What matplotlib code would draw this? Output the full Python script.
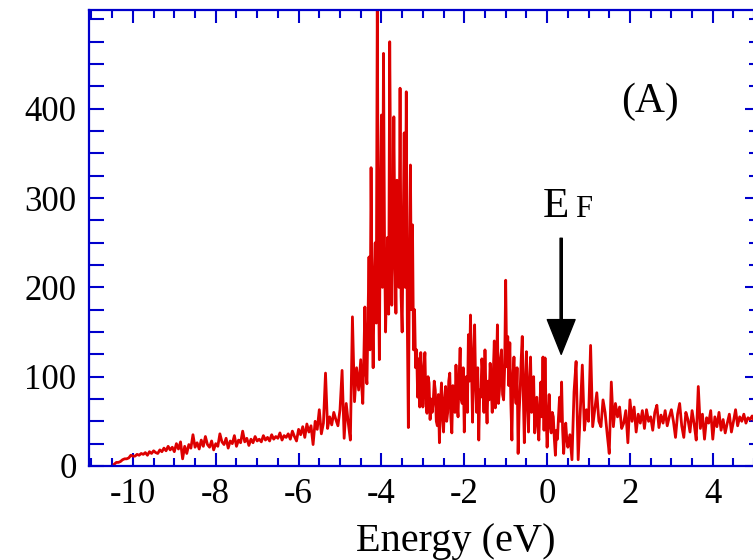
import numpy as np
import matplotlib
matplotlib.use("Agg")
import matplotlib.pyplot as plt
from matplotlib.ticker import MultipleLocator

plt.rcParams['font.family'] = ['Liberation Serif', 'DejaVu Serif']
plt.rcParams['axes.unicode_minus'] = False

# density of states
# low tail: -10.45 .. -4.55 eV, 0.05 eV steps
dos_low = [
    2, 4, 4, 5, 7, 8, 8, 9, 12, 11,
    11, 13, 12, 14, 13, 15, 12, 16, 14, 17, 15, 14, 18, 16, 20, 17, 22, 18, 21, 16,
    25, 19, 27, 8, 22, 14, 24, 20, 35, 21, 26, 19, 29, 22, 33, 24, 21, 28, 18, 25,
    22, 36, 27, 24, 31, 20, 28, 25, 34, 22, 29, 26, 39, 27, 31, 23, 30, 26, 33, 28,
    30, 27, 34, 29, 32, 28, 35, 30, 33, 31, 37, 29, 34, 32, 36, 30, 39, 33, 28, 41,
    35, 44, 32, 47, 38, 45, 24, 50, 41, 63, 36, 48, 104, 42, 55, 46, 60, 52, 45, 63,
    107, 31, 70, 48, 29, 167, 72, 110, 85,
]
# main band: -4.5 .. 0.5 eV, 0.025 eV steps
dos_mid = [
    119, 88, 70, 120, 178, 105, 92, 160, 234, 130, 334, 180, 110, 205, 250, 160, 520, 230, 119, 300,
    393, 200, 462, 250, 150, 210, 256, 170, 475, 300, 180, 240, 391, 250, 171, 320, 287, 200, 423, 190,
    150, 260, 373, 200, 419, 160, 43, 215, 337, 175, 270, 130, 175, 110, 130, 77, 120, 66, 127, 93,
    66, 110, 127, 70, 59, 100, 93, 52, 75, 60, 71, 95, 85, 50, 45, 80, 26, 70, 93, 55,
    38, 75, 89, 50, 60, 95, 104, 55, 37, 90, 80, 60, 113, 70, 55, 100, 132, 75, 70, 110,
    38, 85, 100, 60, 147, 95, 169, 110, 49, 120, 158, 90, 60, 110, 29, 85, 77, 120, 102, 60,
    130, 80, 48, 95, 74, 115, 90, 60, 104, 140, 65, 100, 158, 70, 85, 120, 130, 80, 74, 110,
    208, 111, 145, 90, 138, 70, 29, 100, 122, 85, 70, 110, 14, 60, 85, 120, 145, 80, 26, 90,
    128, 70, 38, 95, 122, 60, 71, 100, 37, 60, 77, 45, 29, 70, 94, 55, 122, 40, 121, 60,
    21, 50, 80, 45, 37, 60, 55, 30, 12, 40, 30, 55, 77, 50, 94, 40, 14, 35, 48, 30,
    21,
]
# high side: 0.55 .. 5.05 eV, 0.05 eV steps
dos_high = [
    35, 7, 83, 117, 7, 60, 113, 40, 63, 50,
    135, 44, 63, 82, 50, 44, 74, 60, 36, 14, 94, 44, 70, 55, 66, 42, 48, 62, 26, 74,
    50, 66, 38, 58, 48, 62, 42, 63, 50, 55, 40, 60, 68, 43, 57, 48, 62, 45, 55, 63,
    50, 32, 58, 70, 45, 32, 60, 52, 38, 62, 47, 29, 89, 42, 58, 30, 54, 48, 62, 30,
    55, 44, 60, 40, 52, 37, 48, 58, 38, 50, 63, 45, 55, 50, 58, 48, 54, 52, 56,
    50, 53,
]
energy = np.concatenate([
    np.linspace(-10.45, -4.55, len(dos_low)),
    np.linspace(-4.5, 0.5, len(dos_mid)),
    np.linspace(0.55, 5.05, len(dos_high)),
])
dos = np.array(dos_low + dos_mid + dos_high)

xticks = [-10, -8, -6, -4, -2, 0, 2, 4]
yticks = [0, 100, 200, 300, 400]

blue = '#0000cc'
red = '#dd0000'

fig = plt.figure(figsize=(7.53, 5.6), dpi=100)
ax = fig.add_axes([0.1182, 0.1679, 0.8845, 0.8143])

ax.plot(energy, dos, color=red, lw=2.0)

ax.set_xlim(-11.06, 5.02)
ax.set_ylim(0, 510.6)
ax.set_xticks(xticks)
ax.set_yticks(yticks)
ax.set_xticklabels([str(t) for t in xticks])
ax.xaxis.set_minor_locator(MultipleLocator(0.5))
ax.yaxis.set_minor_locator(MultipleLocator(25))

for sp in ax.spines.values():
    sp.set_color(blue)
    sp.set_linewidth(1.6)

ax.tick_params(axis='x', which='both', direction='in', top=True, color=blue,
               width=1.5, labelsize=25, pad=9)
ax.tick_params(axis='x', which='major', length=9.5)
ax.tick_params(axis='x', which='minor', length=6)
ax.tick_params(axis='y', which='both', direction='in', right=False, color=blue,
               width=1.5, length=10.5, labelsize=25, pad=9)

sec = ax.secondary_yaxis('right')
sec.set_yticks(yticks)
sec.yaxis.set_minor_locator(MultipleLocator(25))
sec.tick_params(axis='y', which='both', direction='in', color=blue, width=1.5,
                labelright=False)
sec.tick_params(axis='y', which='major', length=7.5)
sec.tick_params(axis='y', which='minor', length=4)
sec.spines['right'].set_color(blue)

ax.set_xlabel('Energy (eV)', fontsize=29)
ax.xaxis.set_label_coords(0.551, -0.186)
ax.xaxis.label.set_va('baseline')

ax.text(2.49, 396, '(A)', fontsize=30, ha='center', va='baseline')
ax.text(-0.097, 279, 'E', fontsize=31, ha='left', va='baseline')
ax.text(0.676, 279, 'F', fontsize=22, ha='left', va='baseline')
ax.annotate('', xy=(0.34, 125), xytext=(0.34, 255),
            arrowprops=dict(facecolor='black', edgecolor='black', width=1.6,
                            headwidth=20, headlength=25, shrink=0))

fig.savefig('out.png', dpi=100)
